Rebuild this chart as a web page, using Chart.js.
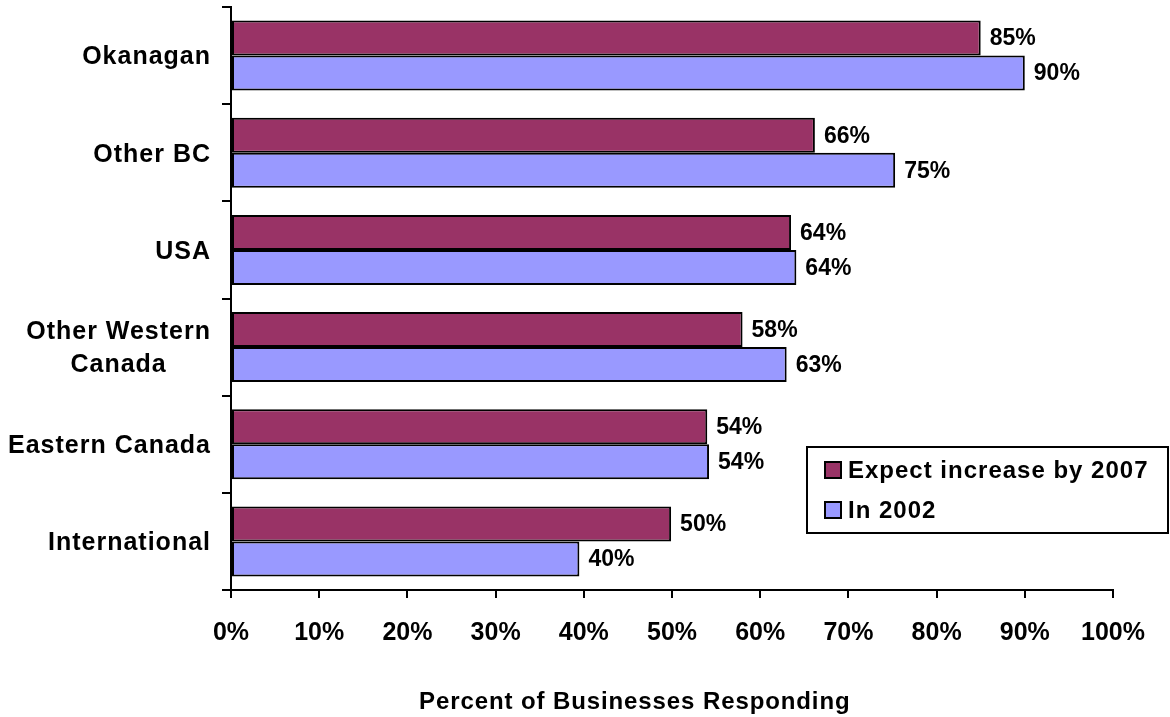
<!DOCTYPE html>
<html>
<head>
<meta charset="utf-8">
<script src="https://cdn.jsdelivr.net/npm/chart.js@4/dist/chart.umd.min.js"></script>
<style>
  html, body { margin: 0; padding: 0; background: #fff; }
  #wrap { width: 1170px; height: 717px; }
</style>
</head>
<body>
<div id="wrap"><canvas id="c" width="1170" height="717"></canvas></div>
<script>
const categories = ['Okanagan', 'Other BC', 'USA', ['Other Western', 'Canada'], 'Eastern Canada', 'International'];
const seriesNames = ['Expect increase by 2007', 'In 2002'];
const expect2007 = [85, 66.2, 63.5, 58, 54, 49.9];
const in2002 = [90, 75.3, 64.1, 63, 54.2, 39.5];
const xTicks = [0, 10, 20, 30, 40, 50, 60, 70, 80, 90, 100];
const axisTitle = 'Percent of Businesses Responding';

const FONT = '"Liberation Sans", Arial, Helvetica, sans-serif';
const colors = ['#993366', '#9999FF'];

const customText = {
  id: 'customText',
  afterDatasetsDraw(chart) {
    const ctx = chart.ctx;
    ctx.save();
    ctx.fillStyle = '#000';
    ctx.font = 'bold 23px ' + FONT;
    ctx.textAlign = 'left';
    ctx.textBaseline = 'middle';
    chart.data.datasets.forEach((ds, di) => {
      chart.getDatasetMeta(di).data.forEach((bar, i) => {
        ctx.fillText(Math.round(ds.data[i]) + '%', bar.x + 9, bar.y + 1);
      });
    });
    ctx.restore();
  },
  afterDraw(chart) {
    const ctx = chart.ctx;
    const ys = chart.scales.y;
    // category labels
    ctx.save();
    ctx.fillStyle = '#000';
    ctx.font = 'bold 25px ' + FONT;
    try { ctx.letterSpacing = '1px'; } catch (e) {}
    ctx.textAlign = 'center';
    ctx.textBaseline = 'middle';
    const right = 211;
    categories.forEach((lab, i) => {
      const lines = Array.isArray(lab) ? lab : [lab];
      const maxW = Math.max(...lines.map(l => ctx.measureText(l).width));
      const cx = right - maxW / 2;
      const cy = ys.getPixelForValue(i) + 2;
      const lh = 33;
      lines.forEach((l, j) => ctx.fillText(l, cx, cy + (j - (lines.length - 1) / 2) * lh));
    });
    ctx.restore();

    // legend
    ctx.save();
    ctx.strokeStyle = '#000';
    ctx.lineWidth = 2;
    ctx.fillStyle = '#fff';
    ctx.fillRect(807, 447, 361, 86);
    ctx.strokeRect(807, 447, 361, 86);
    ctx.font = 'bold 24px ' + FONT;
    try { ctx.letterSpacing = '1px'; } catch (e) {}
    ctx.textAlign = 'left';
    ctx.textBaseline = 'middle';
    chart.data.datasets.forEach((ds, di) => {
      const cy = 470 + di * 40;
      ctx.fillStyle = ds.backgroundColor;
      ctx.fillRect(825, cy - 8, 16, 16);
      ctx.strokeRect(825, cy - 8, 16, 16);
      ctx.fillStyle = '#000';
      ctx.fillText(ds.label, 848, cy + 1);
    });
    ctx.restore();

    // axis title
    ctx.save();
    ctx.fillStyle = '#000';
    ctx.font = 'bold 24px ' + FONT;
    try { ctx.letterSpacing = '0.9px'; } catch (e) {}
    ctx.textAlign = 'left';
    ctx.textBaseline = 'middle';
    ctx.fillText(axisTitle, 419, 702);
    ctx.restore();
  }
};

new Chart(document.getElementById('c'), {
  type: 'bar',
  data: {
    labels: categories,
    datasets: [
      { label: seriesNames[0], data: expect2007, backgroundColor: colors[0], borderColor: '#000', borderWidth: 2, borderSkipped: false },
      { label: seriesNames[1], data: in2002, backgroundColor: colors[1], borderColor: '#000', borderWidth: 2, borderSkipped: false }
    ]
  },
  options: {
    indexAxis: 'y',
    responsive: false,
    animation: false,
    events: [],
    layout: { padding: { left: 0, right: 57, top: 7, bottom: 0 } },
    datasets: { bar: { categoryPercentage: 0.72, barPercentage: 1.0 } },
    plugins: { legend: { display: false }, tooltip: { enabled: false }, title: { display: false } },
    scales: {
      x: {
        type: 'linear',
        min: 0, max: 100,
        afterBuildTicks(scale) { scale.ticks = xTicks.map(v => ({ value: v })); },
        afterFit(scale) { scale.height = 127; },
        grid: { drawOnChartArea: false, drawTicks: true, tickLength: 8, color: '#000', lineWidth: 2 },
        border: { display: true, color: '#000', width: 2 },
        ticks: {
          color: '#000',
          padding: 20,
          font: { family: FONT, size: 25, weight: 'bold' },
          maxRotation: 0,
          autoSkip: false,
          callback: v => v + '%'
        }
      },
      y: {
        type: 'category',
        offset: true,
        afterFit(scale) { scale.width = 231; },
        grid: { offset: true, drawOnChartArea: false, drawTicks: true, tickLength: 9, color: '#000', lineWidth: 2 },
        border: { display: true, color: '#000', width: 2 },
        ticks: { display: false }
      }
    }
  },
  plugins: [customText]
});
</script>
</body>
</html>
